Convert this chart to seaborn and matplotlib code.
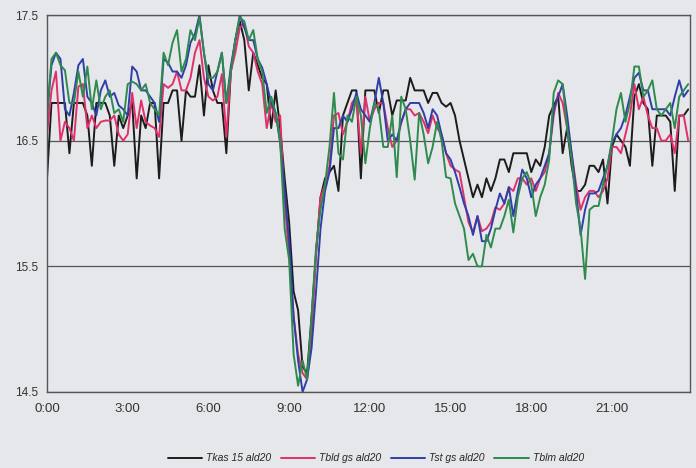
import numpy as np
import pandas as pd
import matplotlib
matplotlib.use("Agg")
import matplotlib.pyplot as plt
import seaborn as sns
from matplotlib.ticker import MultipleLocator, FixedLocator

# 10-minute samples over one day (hours)
hours = np.arange(144) / 6.0

tkas = [16.2, 16.8, 16.8, 16.8, 16.8, 16.4, 16.8, 16.8, 16.8, 16.7,
        16.3, 16.8, 16.8, 16.8, 16.7, 16.3, 16.7, 16.6, 16.7, 16.8,
        16.2, 16.7, 16.6, 16.8, 16.8, 16.2, 16.8, 16.8, 16.9, 16.9,
        16.5, 16.9, 16.85, 16.85, 17.1, 16.7, 17.1, 16.9, 16.8, 16.8,
        16.4, 17.05, 17.3, 17.45, 17.3, 16.9, 17.2, 17.1, 17.0, 16.95,
        16.6, 16.9, 16.6, 16.2, 15.85, 15.3, 15.15, 14.7, 14.65, 15.1,
        15.6, 16.05, 16.2, 16.25, 16.3, 16.1, 16.7, 16.8, 16.9, 16.9,
        16.2, 16.9, 16.9, 16.9, 16.72, 16.9, 16.9, 16.7, 16.82, 16.82,
        16.82, 17.0, 16.9, 16.9, 16.9, 16.8, 16.88, 16.88, 16.8, 16.77,
        16.8, 16.7, 16.5, 16.35, 16.2, 16.05, 16.15, 16.05, 16.2, 16.1,
        16.2, 16.35, 16.35, 16.25, 16.4, 16.4, 16.4, 16.4, 16.25, 16.35,
        16.3, 16.45, 16.7, 16.78, 16.85, 16.4, 16.6, 16.3, 16.1, 16.1,
        16.15, 16.3, 16.3, 16.25, 16.35, 16.0, 16.45, 16.55, 16.5, 16.45,
        16.3, 16.85, 16.95, 16.8, 16.75, 16.3, 16.7, 16.7, 16.7, 16.65,
        16.1, 16.7, 16.7, 16.75]

tbld = [16.55, 16.9, 17.05, 16.5, 16.65, 16.6, 16.5, 16.93, 16.95, 16.6,
        16.7, 16.6, 16.65, 16.66, 16.66, 16.7, 16.55, 16.5, 16.55, 16.88,
        16.6, 16.82, 16.65, 16.62, 16.6, 16.53, 16.95, 16.92, 16.95, 17.05,
        16.9, 16.9, 17.0, 17.2, 17.3, 17.0, 16.85, 16.82, 16.85, 17.03,
        16.53, 17.05, 17.2, 17.4, 17.43, 17.25, 17.2, 17.05, 16.95, 16.6,
        16.8, 16.65, 16.7, 16.0, 15.6, 15.1, 14.8, 14.65, 14.6, 14.95,
        15.6, 16.05, 16.15, 16.3, 16.7, 16.72, 16.55, 16.65, 16.8, 16.85,
        16.4, 16.85, 16.65, 16.75, 16.8, 16.8, 16.6, 16.45, 16.5, 16.64,
        16.75, 16.75, 16.7, 16.72, 16.65, 16.56, 16.7, 16.6, 16.55, 16.4,
        16.3, 16.27, 16.25, 16.05, 15.85, 15.77, 15.9, 15.78, 15.8, 15.85,
        15.97, 15.95, 16.0, 16.13, 16.1, 16.2, 16.2, 16.15, 16.2, 16.1,
        16.2, 16.25, 16.4, 16.7, 16.88, 16.8, 16.6, 16.4, 16.15, 15.95,
        16.05, 16.1, 16.1, 16.05, 16.1, 16.2, 16.45, 16.45, 16.4, 16.55,
        16.7, 16.95, 16.75, 16.85, 16.7, 16.6, 16.6, 16.5, 16.5, 16.55,
        16.4, 16.7, 16.7, 16.5]

tst = [16.7, 17.1, 17.2, 17.15, 16.75, 16.7, 16.88, 17.1, 17.15, 16.85,
       16.8, 16.7, 16.9, 16.98, 16.85, 16.88, 16.78, 16.75, 16.7, 17.09,
       17.05, 16.9, 16.9, 16.85, 16.8, 16.65, 17.15, 17.12, 17.05, 17.05,
       17.0, 17.1, 17.28, 17.35, 17.5, 17.2, 16.95, 16.9, 17.05, 17.2,
       16.8, 17.09, 17.3, 17.5, 17.4, 17.3, 17.3, 17.15, 17.08, 16.95,
       16.8, 16.72, 16.48, 16.1, 15.7, 15.1, 14.75, 14.5, 14.6, 14.85,
       15.3, 15.8, 16.1, 16.25, 16.6, 16.6, 16.7, 16.65, 16.75, 16.88,
       16.75, 16.7, 16.65, 16.8, 17.0, 16.8, 16.5, 16.55, 16.5, 16.65,
       16.75, 16.8, 16.8, 16.8, 16.72, 16.6, 16.75, 16.7, 16.55, 16.4,
       16.35, 16.25, 16.13, 16.0, 15.9, 15.75, 15.9, 15.7, 15.7, 15.8,
       15.95, 16.08, 16.0, 16.13, 15.9, 16.1, 16.27, 16.2, 16.05, 16.15,
       16.2, 16.3, 16.4, 16.75, 16.85, 16.95, 16.7, 16.4, 16.1, 15.75,
       15.95, 16.08, 16.08, 16.1, 16.2, 16.3, 16.48, 16.55, 16.6, 16.7,
       16.85, 17.0, 17.04, 16.9, 16.9, 16.75, 16.75, 16.75, 16.75, 16.7,
       16.85, 16.98, 16.85, 16.9]

tblm = [16.7, 17.15, 17.2, 17.1, 17.06, 16.8, 16.8, 17.05, 16.85, 17.09,
        16.75, 16.98, 16.75, 16.85, 16.9, 16.72, 16.75, 16.65, 16.95, 16.97,
        16.95, 16.9, 16.95, 16.8, 16.75, 16.7, 17.2, 17.1, 17.28, 17.38,
        17.05, 17.15, 17.38, 17.3, 17.48, 17.2, 17.0, 17.0, 17.05, 17.2,
        16.8, 17.05, 17.3, 17.48, 17.45, 17.3, 17.38, 17.15, 17.05, 16.72,
        16.85, 16.72, 16.5, 15.8, 15.55, 14.8, 14.55, 14.75, 14.6, 15.1,
        15.65, 15.95, 16.15, 16.45, 16.88, 16.4, 16.35, 16.7, 16.65, 16.85,
        16.7, 16.32, 16.6, 16.8, 16.75, 16.45, 16.45, 16.7, 16.21, 16.85,
        16.75, 16.5, 16.19, 16.72, 16.55, 16.32, 16.45, 16.65, 16.5, 16.21,
        16.2, 16.0, 15.9, 15.8, 15.55, 15.6, 15.5, 15.5, 15.75, 15.65,
        15.8, 15.8, 15.9, 16.03, 15.77, 16.05, 16.2, 16.25, 16.15, 15.9,
        16.05, 16.15, 16.35, 16.88, 16.98, 16.95, 16.6, 16.35, 16.0, 15.8,
        15.4, 15.95, 15.98, 15.98, 16.15, 16.3, 16.5, 16.75, 16.88, 16.65,
        16.8, 17.09, 17.09, 16.85, 16.9, 16.98, 16.75, 16.7, 16.75, 16.8,
        16.6, 16.85, 16.9, 16.95]

series_names = ["Tkas 15 ald20", "Tbld gs ald20", "Tst gs ald20", "Tblm ald20"]
colors = ["#1c1c1c", "#e0306a", "#2f3fa8", "#2f8a4e"]
x_tick_hours = [0, 3, 6, 9, 12, 15, 18, 21]
x_tick_labels = ["0:00", "3:00", "6:00", "9:00", "12:00", "15:00", "18:00", "21:00"]
y_ticks = [14.5, 15.5, 16.5, 17.5]

df = pd.concat([
    pd.DataFrame({"hour": hours, "temp": vals, "series": name})
    for name, vals in zip(series_names, [tkas, tbld, tst, tblm])
], ignore_index=True)

sns.set_theme(style="white")
bg = "#e6e7eb"
plt.rcParams["font.family"] = ["Liberation Sans", "DejaVu Sans"]

fig = plt.figure(figsize=(6.96, 4.68), dpi=100, facecolor=bg)
ax = fig.add_axes([47 / 696, 1 - 392 / 468, (690 - 47) / 696, (392 - 15) / 468])
ax.set_facecolor(bg)

sns.lineplot(data=df, x="hour", y="temp", hue="series", hue_order=series_names,
             palette=colors, linewidth=1.4, ax=ax, legend=True)

ax.set_xlim(0, 23.9)
ax.set_ylim(14.5, 17.5)
ax.set_xticks(x_tick_hours)
ax.set_xticklabels(x_tick_labels)
ax.xaxis.set_minor_locator(MultipleLocator(1))
ax.set_yticks(y_ticks)
ax.set_yticklabels([f"{v:.1f}" for v in y_ticks])
ax.set_xlabel("")
ax.set_ylabel("")

ax.yaxis.grid(True, color="#555555", linewidth=0.9)
ax.set_axisbelow(True)
for side in ["left", "bottom", "top", "right"]:
    ax.spines[side].set_visible(True)
    ax.spines[side].set_color("#555555")
    ax.spines[side].set_linewidth(1.0)

ax.tick_params(axis="x", which="both", direction="out", length=4, width=0.9,
               color="#555555", labelsize=9.5, labelcolor="#333333", pad=4)
ax.tick_params(axis="y", which="both", direction="out", length=3, width=0.9,
               color="#555555", labelsize=8.5, labelcolor="#333333", pad=3)

handles, labels = ax.get_legend_handles_labels()
ax.get_legend().remove()
fig.legend(handles, labels, loc="lower center", bbox_to_anchor=(0.54, -0.01),
           ncol=4, frameon=False, fontsize=7.5, handlelength=3.3,
           columnspacing=0.9, handletextpad=0.4,
           prop={"style": "italic", "size": 7.5})

fig.savefig("out.png", dpi=100, facecolor=bg)
